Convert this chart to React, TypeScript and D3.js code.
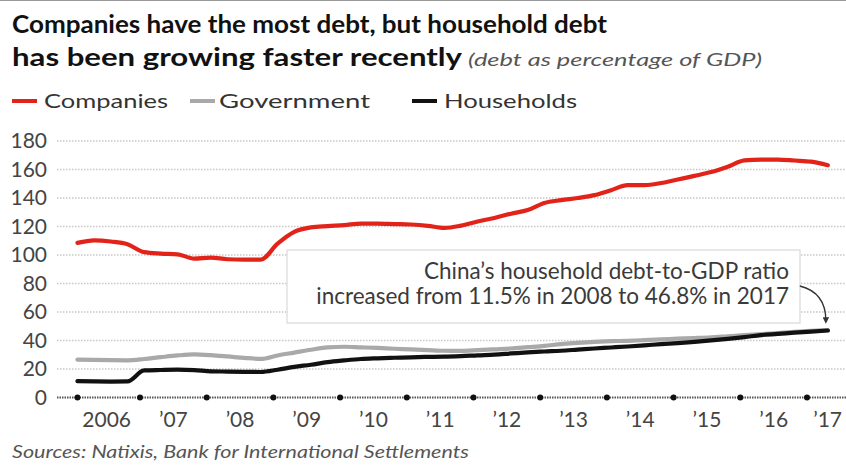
import React from 'react';
import * as d3 from 'd3';

const W = 846;
const H = 471;

const years = [2006, 2007, 2008, 2009, 2010, 2011, 2012, 2013, 2014, 2015, 2016, 2017];
const yearLabels = ['2006', '\u201907', '\u201908', '\u201909', '\u201910', '\u201911', '\u201912', '\u201913', '\u201914', '\u201915', '\u201916', '\u201917'];
const yTicks = [0, 20, 40, 60, 80, 100, 120, 140, 160, 180];

// quarterly observations, 2006Q1 .. 2017Q2
const quarters: string[] = [];
for (const yr of years) for (const q of [1, 2, 3, 4]) quarters.push(`${yr}Q${q}`);
quarters.splice(46);

const companies = [
  108.5, 110.3, 109.5, 107.6, 102, 101, 100.5, 97.5, 98.2, 97, 96.8, 96.8,
  108, 116.3, 119.4, 120.3, 121, 122, 122, 121.7, 121.4, 120.5, 119, 120.6,
  123.5, 126, 129, 131.5, 136.5, 138.5, 140, 142, 145.5, 149, 149, 150.5,
  153, 155.5, 158.2, 162, 166.4, 167, 167, 166.3, 165.5, 163,
];
const government = [
  26.6, 26.4, 26.2, 26.1, 27, 28.3, 29.5, 30.2, 29.7, 28.8, 27.8, 27.1,
  29.5, 31.5, 33.5, 35.2, 35.6, 35.2, 34.8, 34.2, 33.8, 33.3, 32.8, 32.7,
  33.2, 33.8, 34.4, 35.3, 36.2, 37.5, 38.3, 39, 39.5, 39.8, 40.3, 40.8,
  41.3, 41.7, 42.2, 43, 43.8, 44.5, 45.2, 46, 46.7, 47.3,
];
const households = [
  11.5, 11.3, 11.2, 11.3, 19, 19.3, 19.5, 19.2, 18.4, 18.2, 18, 17.9,
  19.5, 21.5, 23, 24.8, 26, 27, 27.5, 27.9, 28.2, 28.5, 28.7, 29,
  29.6, 30.1, 30.9, 31.7, 32.3, 32.8, 33.6, 34.4, 35.1, 35.8, 36.6, 37.5,
  38.2, 39.1, 40.1, 41.2, 42.4, 43.8, 44.6, 45.5, 46.2, 47,
];

const seriesNames = ['Companies', 'Government', 'Households'];
const seriesColors = ['#e2231a', '#a9a9a9', '#111111'];

const titleLines = ['Companies have the most debt, but household debt', 'has been growing faster recently'];
const subtitle = '(debt as percentage of GDP)';
const noteLines = ['China\u2019s household debt-to-GDP ratio', 'increased from 11.5% in 2008 to 46.8% in 2017'];
const source = 'Sources: Natixis, Bank for International Settlements';

const qTime = (q: string) => +q.slice(0, 4) + (+q.slice(5) - 1) / 4 + 0.0625;

const FONT = 'Lato, "Open Sans", sans-serif';

export default function App() {
  const x = d3.scaleLinear().domain([2007, 2017]).range([140, 807]);
  const y = d3.scaleLinear().domain([0, 180]).range([397.5, 141]);
  const times = quarters.map(qTime);
  const line = d3
    .line<number>()
    .x((_, i) => x(times[i]))
    .y((d) => y(d))
    .curve(d3.curveMonotoneX);
  const allSeries = [companies, government, households];
  const tickDots = [times[0], ...years.slice(1)];
  const lastT = times[times.length - 1];
  const hx = x(lastT);
  const hy = y(households[households.length - 1]);

  const legendPos = [
    { lx: 12, tx: 44, tw: 124 },
    { lx: 190, tx: 219, tw: 151 },
    { lx: 412, tx: 444, tw: 133 },
  ];

  return (
    <svg
      width={W}
      height={H}
      viewBox={`0 0 ${W} ${H}`}
      style={{ position: 'absolute', left: 0, top: 0, background: '#fff' }}
      fontFamily={FONT}
    >
      <defs>
        <marker id="arr" viewBox="0 0 10 10" refX="5" refY="5" markerWidth="5" markerHeight="5" orient="auto">
          <path d="M0,0 L10,5 L0,10 z" fill="#333" />
        </marker>
      </defs>
      <rect x={0} y={0} width={W} height={H} fill="#fff" />
      <line x1={0} x2={W} y1={0.5} y2={0.5} stroke="#999" strokeWidth={1} />

      {/* title */}
      <text x={12} y={33} fontSize={25} fontWeight={700} fill="#111" textLength={595} lengthAdjust="spacingAndGlyphs">
        {titleLines[0]}
      </text>
      <text x={12} y={66} fontSize={25} fontWeight={700} fill="#111" textLength={450} lengthAdjust="spacingAndGlyphs">
        {titleLines[1]}
      </text>
      <text x={468} y={66} fontSize={17} fontStyle="italic" fill="#555" textLength={294} lengthAdjust="spacingAndGlyphs">
        {subtitle}
      </text>

      {/* legend */}
      {seriesNames.map((n, i) => (
        <g key={n}>
          <line x1={legendPos[i].lx} x2={legendPos[i].lx + 25} y1={101} y2={101} stroke={seriesColors[i]} strokeWidth={4} />
          <text x={legendPos[i].tx} y={108} fontSize={20} fill="#333" textLength={legendPos[i].tw} lengthAdjust="spacingAndGlyphs">
            {n}
          </text>
        </g>
      ))}

      {/* gridlines */}
      {yTicks.map((t) => (
        <g key={t}>
          {t !== 0 && (
            <line x1={57} x2={W} y1={y(t)} y2={y(t)} stroke="#c8c8c8" strokeWidth={1.5} strokeDasharray="1.5 1.5" />
          )}
          <text x={47} y={y(t) + 7} fontSize={21} fill="#444" textAnchor="end">
            {t}
          </text>
        </g>
      ))}

      {/* annotation box */}
      <rect x={287} y={250} width={513} height={73} fill="#fff" stroke="#d9d9d9" strokeWidth={1.2} />
      <text x={789} y={279} fontSize={22.5} fill="#3a3a3a" textAnchor="end">
        {noteLines[0]}
      </text>
      <text x={789} y={304} fontSize={22.5} fill="#3a3a3a" textAnchor="end">
        {noteLines[1]}
      </text>
      <path
        d={`M ${hx - 28} 286 C ${hx - 12} 290, ${hx - 2} 300, ${hx - 2} ${hy - 10}`}
        fill="none"
        stroke="#333"
        strokeWidth={1.3}
        markerEnd="url(#arr)"
      />

      {/* zero axis */}
      <line x1={57} x2={W} y1={y(0)} y2={y(0)} stroke="#555" strokeWidth={2} strokeDasharray="1.5 1" />
      {tickDots.map((t, i) => (
        <circle key={i} cx={x(t)} cy={y(0)} r={3} fill="#111" />
      ))}
      {years.map((yr, i) => {
        const cx = x(yr + 0.5);
        const last = i === years.length - 1;
        return (
          <text
            key={yr}
            x={last ? Math.min(cx + 14, W - 4) : cx}
            y={427}
            fontSize={21}
            fill="#444"
            textAnchor={last ? 'end' : 'middle'}
          >
            {yearLabels[i]}
          </text>
        );
      })}

      {/* series */}
      {allSeries.map((s, i) => (
        <path key={i} d={line(s) || ''} fill="none" stroke={seriesColors[i]} strokeWidth={4.2} strokeLinejoin="round" strokeLinecap="round" />
      ))}

      {/* source */}
      <text x={12} y={458} fontSize={17} fontStyle="italic" fill="#555" textLength={457} lengthAdjust="spacingAndGlyphs">
        {source}
      </text>
    </svg>
  );
}
